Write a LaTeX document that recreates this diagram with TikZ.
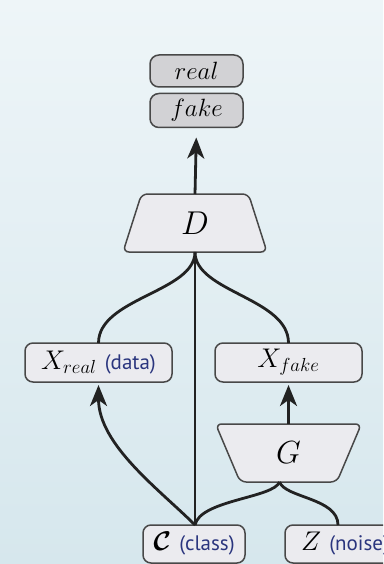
\documentclass[tikz,border=0pt]{standalone}
\usepackage{fix-cm}
\usepackage{amsmath}
\usepackage{fontspec}
\newfontfamily\labfont{PT Sans}
\usetikzlibrary{shapes.geometric,arrows.meta}
\definecolor{bgtop}{HTML}{EEF5F8}
\definecolor{bgbot}{HTML}{D6E7ED}
\definecolor{boxline}{HTML}{484848}
\definecolor{boxfill}{HTML}{EBEBEF}
\definecolor{darkfill}{HTML}{D2D2D5}
\definecolor{conncol}{HTML}{222222}
\definecolor{labcol}{HTML}{2A357E}
\tikzset{
  box/.style={draw=boxline, line width=1.5pt, fill=boxfill, rounded corners=8pt,
    inner sep=0pt, outer sep=0pt, align=center},
  outbox/.style={box, fill=darkfill, minimum width=93pt, rounded corners=9pt},
  trap/.style={draw=boxline, line width=1.5pt, fill=boxfill, shape=trapezium,
    trapezium stretches=true, rounded corners=6pt, minimum height=58pt,
    inner sep=0pt, outer sep=0pt},
  conn/.style={draw=conncol, line width=2.8pt, line join=round},
  arr/.style={conn, -{Stealth[length=21pt,width=17pt,inset=6pt]}},
  mathbig/.style={font=\fontsize{27}{30}\selectfont},
}
\newcommand{\lab}[1]{{\labfont\fontsize{21}{24}\selectfont\color{labcol}#1}}
\begin{document}
\begin{tikzpicture}[x=1pt,y=-1pt]
\clip (0,0) rectangle (383,564);
\useasboundingbox (0,0) rectangle (383,564);
\shade[top color=bgtop, bottom color=bgbot] (0,0) rectangle (383,564);

\node[outbox, minimum height=32pt, font=\fontsize{25}{28}\selectfont] (real) at (196.5,71) {$real$};
\node[outbox, minimum height=34pt, font=\fontsize{25}{28}\selectfont] (fake) at (196.5,110.5) {$fake$};

\node[trap, trapezium left angle=78, trapezium right angle=78, minimum width=144pt,
  font=\fontsize{33}{36}\selectfont] (D) at (195,223) {$D$};

\node[box, minimum width=147pt, minimum height=39pt, mathbig] (Xr) at (98.5,362.5) {$X_{real}$ \lab{(data)}};
\node[box, minimum width=147pt, minimum height=39pt, mathbig] (Xf) at (288.5,362.5) {$X_{fake}$};

\node[trap, trapezium left angle=106, trapezium right angle=106, minimum width=146pt,
  font=\fontsize{32}{35}\selectfont] (G) at (288.5,453) {$G$};

\node[box, minimum width=102pt, minimum height=38pt, mathbig] (C) at (194,544) {$\boldsymbol{\mathcal{C}}$ \lab{(class)}};
\node[box, minimum width=120pt, minimum height=38pt, mathbig] (Z) at (345,544) {$Z$ \lab{(noise)}};

\coordinate (cj) at (D.south |- C.north);
\coordinate (gj) at ([xshift=-9pt]G.south);
\coordinate (zj) at ([xshift=-7pt]Z.north);

\draw[arr, shorten >=10pt] (D.north) -- (fake.south);
\draw[conn] (D.south) .. controls +(0,40) and +(0,-45) .. (Xr.north);
\draw[conn] (D.south) .. controls +(0,40) and +(0,-45) .. (Xf.north);
\draw[conn] (D.south) -- (cj);
\draw[arr, shorten >=3pt] (cj) .. controls +(-35,-35) and +(0,63) .. (Xr.south);
\draw[arr, shorten >=3pt] (G.north) -- (Xf.south);
\draw[conn] (gj) .. controls +(-6,16) and +(5,-25) .. (cj);
\draw[conn] (gj) .. controls +(6,16) and +(0,-27) .. (zj);
\end{tikzpicture}
\end{document}
